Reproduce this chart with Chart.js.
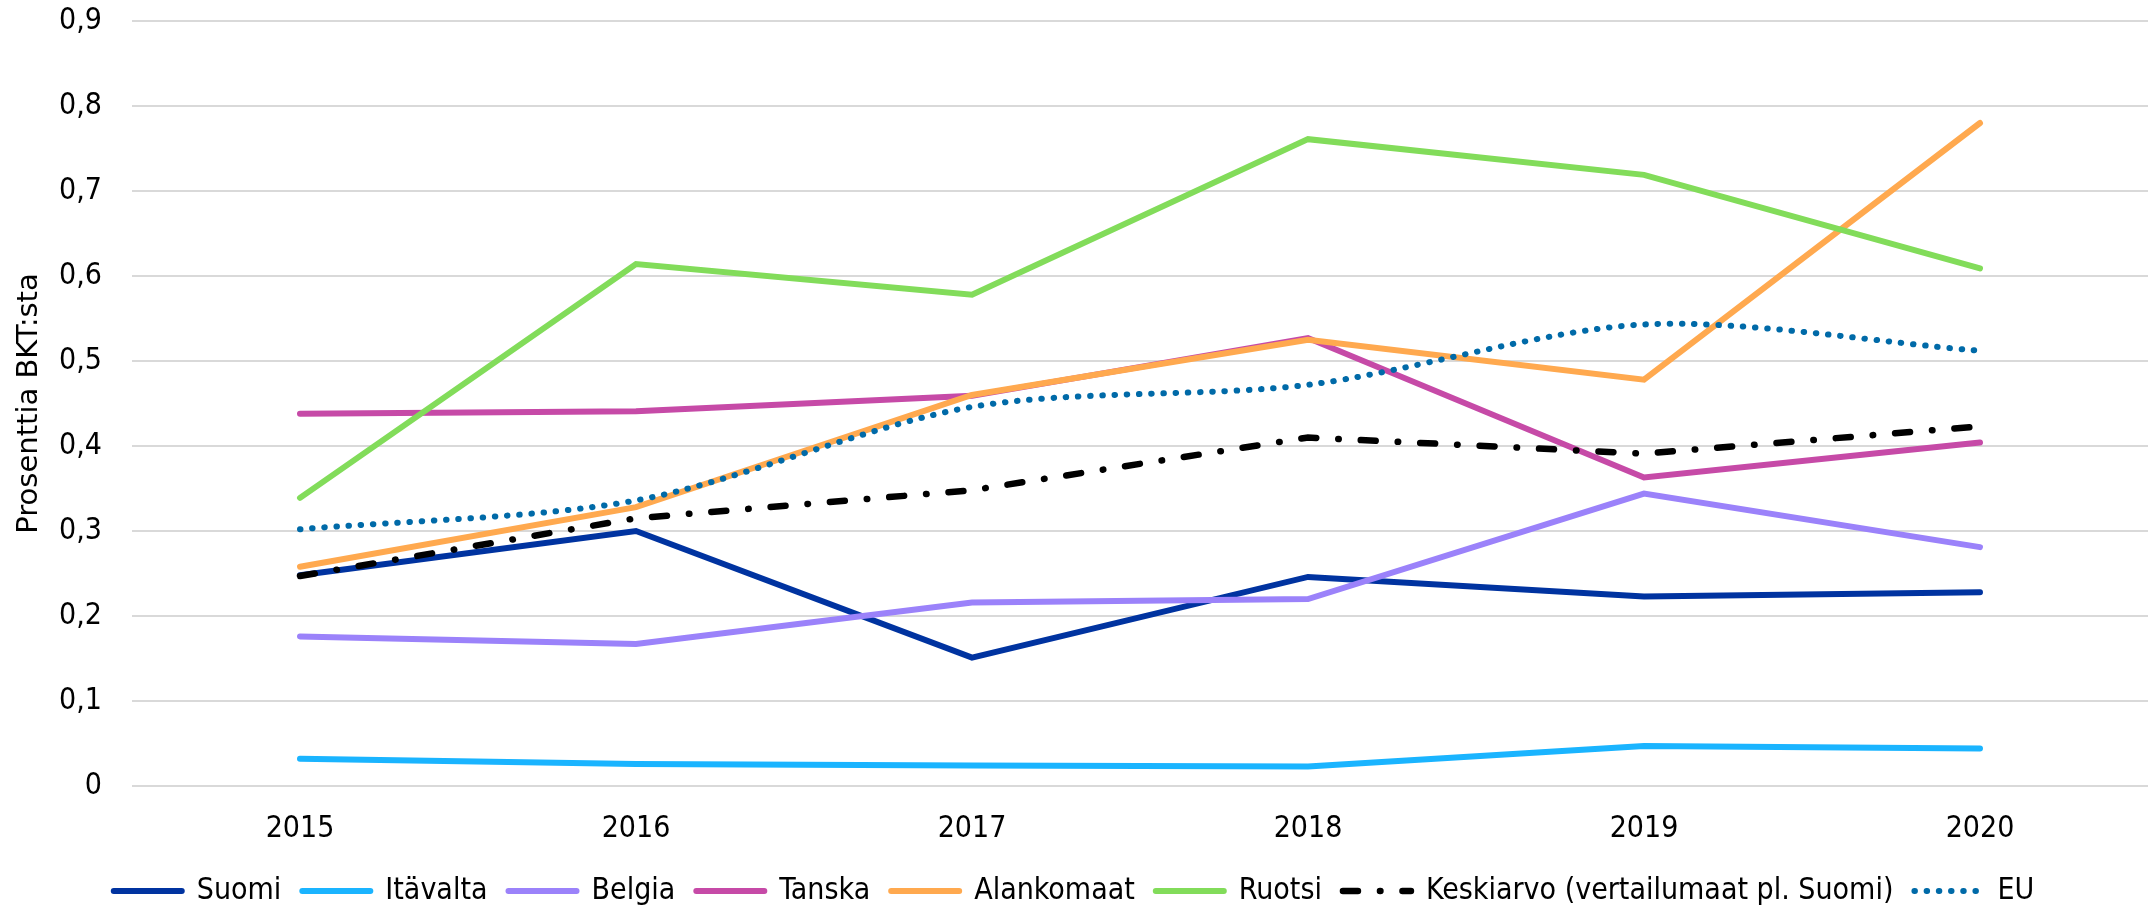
<!DOCTYPE html>
<html>
<head>
<meta charset="utf-8">
<script src="https://cdn.jsdelivr.net/npm/chart.js@4"></script>
<style>
  html, body { margin: 0; padding: 0; background: #fff; }
  #wrap { width: 2148px; height: 910px; }
</style>
</head>
<body>
<div id="wrap"><canvas id="myChart" width="2148" height="910"></canvas></div>
<script>
// years on the x axis
let years = ['2015', '2016', '2017', '2018', '2019', '2020'];

// share of GDP
let suomi      = [0.248, 0.300, 0.151, 0.246, 0.223, 0.228];
let itavalta   = [0.032, 0.026, 0.024, 0.023, 0.047, 0.044];
let belgia     = [0.176, 0.167, 0.216, 0.220, 0.344, 0.281];
let tanska     = [0.438, 0.441, 0.459, 0.527, 0.363, 0.404];
let alankomaat = [0.258, 0.328, 0.460, 0.525, 0.478, 0.780];
let ruotsi     = [0.339, 0.614, 0.578, 0.761, 0.719, 0.609];
let keskiarvo  = [0.247, 0.315, 0.348, 0.410, 0.391, 0.423];
let eu         = [0.302, 0.336, 0.446, 0.472, 0.543, 0.512];

let yTickLabels = ['0', '0,1', '0,2', '0,3', '0,4', '0,5', '0,6', '0,7', '0,8', '0,9'];

const condensed = '"DejaVu Sans Condensed", "DejaVu Sans", sans-serif';

function line(label, data, color, order, extra) {
    return Object.assign({
        label: label,
        data: data,
        borderColor: color,
        backgroundColor: color,
        borderWidth: 6,
        borderCapStyle: 'round',
        pointRadius: 0,
        pointHoverRadius: 0,
        pointStyle: 'line',
        tension: 0,
        fill: false,
        order: order
    }, extra || {});
}

let ctx = document.getElementById('myChart');
if (ctx !== null) {
    new Chart(ctx, {
        type: 'line',
        data: {
            labels: years,
            datasets: [
                line('Suomi', suomi, '#0033a0', 8),
                line('Itävalta', itavalta, '#1ab4ff', 7),
                line('Belgia', belgia, '#9b82fa', 6),
                line('Tanska', tanska, '#c64aa7', 5),
                line('Alankomaat', alankomaat, '#ffa94f', 4),
                line('Ruotsi', ruotsi, '#82dc5a', 3),
                line('Keskiarvo (vertailumaat pl. Suomi)', keskiarvo, '#000000', 2, {
                    borderWidth: 6.5,
                    borderDash: [15, 22, 0.5, 22]
                }),
                line('EU', eu, '#006aa8', 1, {
                    borderWidth: 6,
                    borderDash: [0.5, 11.7],
                    tension: 0.3
                })
            ]
        },
        options: {
            responsive: false,
            animation: false,
            devicePixelRatio: 1,
            layout: {
                padding: { top: 21, left: 0, right: 0, bottom: -6 }
            },
            plugins: {
                tooltip: { enabled: false },
                legend: {
                    position: 'bottom',
                    labels: {
                        usePointStyle: true,
                        pointStyleWidth: 68,
                        boxHeight: 30,
                        padding: 21,
                        color: '#000',
                        font: { family: condensed, size: 30 },
                        sort: (a, b) => a.datasetIndex - b.datasetIndex,
                        generateLabels: (chart) => {
                            let items = Chart.defaults.plugins.legend.labels.generateLabels(chart);
                            items.forEach(item => {
                                let ds = chart.data.datasets[item.datasetIndex];
                                item.lineDash = ds.borderDash || [];
                                item.lineCap = 'round';
                                item.lineWidth = ds.borderWidth;
                                item.strokeStyle = ds.borderColor;
                            });
                            return items;
                        }
                    }
                }
            },
            scales: {
                x: {
                    offset: true,
                    grid: { display: false, drawTicks: false },
                    border: { display: false },
                    ticks: {
                        padding: 25,
                        color: '#000',
                        font: { family: condensed, size: 30 }
                    },
                    afterFit: (scale) => { scale.height = 69; }
                },
                y: {
                    min: 0,
                    max: 0.9,
                    grid: { color: '#d9d9d9', lineWidth: 2, drawTicks: false },
                    border: { display: false },
                    ticks: {
                        stepSize: 0.1,
                        padding: 30,
                        color: '#000',
                        font: { family: condensed, size: 30 },
                        callback: (value, index) => yTickLabels[index]
                    },
                    title: {
                        display: true,
                        text: 'Prosenttia BKT:sta',
                        color: '#000',
                        padding: { top: 12, bottom: 0 },
                        font: { family: '"DejaVu Sans", sans-serif', size: 29 }
                    },
                    afterFit: (scale) => {
                        scale.width = 132;
                        scale.paddingTop = 0;
                        scale.paddingBottom = 0;
                    }
                }
            }
        }
    });
}
</script>
</body>
</html>
